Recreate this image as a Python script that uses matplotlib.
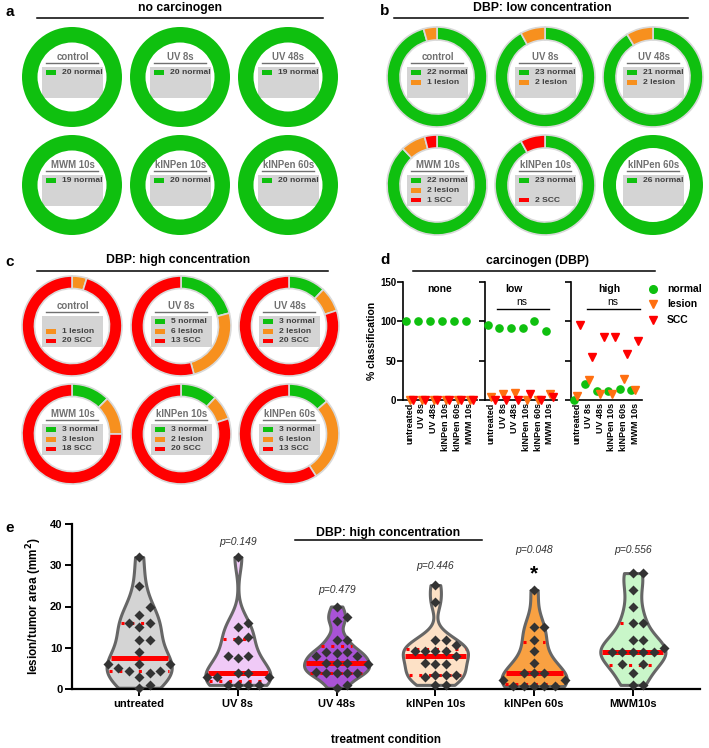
import numpy as np
import matplotlib
matplotlib.use('Agg')
import matplotlib.pyplot as plt
from matplotlib.patches import Rectangle
from matplotlib.lines import Line2D

plt.rcParams['font.family'] = ['Liberation Sans', 'DejaVu Sans']

W, H = 709, 748

# ---- data -------------------------------------------------------------
donut_names = ['control', 'UV 8s', 'UV 48s', 'MWM 10s', 'kINPen 10s', 'kINPen 60s']

a_normal = [20, 20, 19, 19, 20, 20]
a_lesion = [0, 0, 0, 0, 0, 0]
a_scc = [0, 0, 0, 0, 0, 0]

b_normal = [22, 23, 21, 22, 23, 26]
b_lesion = [1, 2, 2, 2, 0, 0]
b_scc = [0, 0, 0, 1, 2, 0]

c_normal = [0, 5, 3, 3, 3, 3]
c_lesion = [1, 6, 2, 3, 2, 6]
c_scc = [20, 13, 20, 18, 20, 13]

d_labels = ['untreated', 'UV 8s', 'UV 48s', 'kINPen 10s', 'kINPen 60s', 'MWM 10s']
d_groups = ['none', 'low', 'high']
d_normal = [[100, 100, 100, 100, 100, 100],
            [95.7, 92, 91.3, 92, 100, 88],
            [0, 20.8, 12, 12, 13.6, 12.5]]
d_lesion = [[0, 0, 0, 0, 0, 0],
            [4.3, 8, 8.7, 0, 0, 8],
            [4.8, 25, 8, 8, 27.3, 12.5]]
d_scc = [[0, 0, 0, 0, 0, 0],
         [0, 0, 0, 8, 0, 4],
         [95.2, 54.2, 80, 80, 59.1, 75]]

e_labels = ['untreated', 'UV 8s', 'UV 48s', 'kINPen 10s', 'kINPen 60s', 'MWM10s']
e_untreated = [32, 25, 20, 18, 16, 16, 15, 12, 12, 9, 6, 6, 6, 5, 4.4, 4.4, 4, 3, 1, 0.3]
e_uv8 = [32, 16, 15, 12.7, 12, 8, 8, 7.4, 4, 4, 3, 3, 3, 1, 1, 1, 1]
e_uv48 = [20, 17.5, 16.5, 12, 12, 9, 9, 8.8, 8, 8, 6.2, 6.2, 6.2, 6, 4.2, 4, 4, 4, 4, 1, 0.3]
e_kin10 = [25.2, 21.2, 12, 12, 10.7, 9.3, 9.3, 9.3, 9.3, 8, 6.2, 6, 6, 3.4, 3.4, 3.4, 3, 1, 1]
e_kin60 = [24, 15, 15, 12, 9.2, 6.4, 4, 4, 4, 2.2, 2.2, 0.7, 0.7, 0.7, 0.7, 0.7]
e_mwm = [28.1, 28.1, 24, 20, 16.1, 16.1, 12, 12, 9.9, 9, 9, 9, 9, 9, 6, 6, 4, 1, 1]
e_median = [7.5, 4.0, 6.2, 8.0, 4.0, 9.0]
e_q1 = [4.4, 1.9, 4.0, 3.4, 1.1, 5.8]
e_q3 = [16.0, 12.2, 10.4, 9.7, 11.5, 16.0]
e_pvals = ['', 'p=0.149', 'p=0.479', 'p=0.446', 'p=0.048', 'p=0.556']
e_pval_y = [0, 35.7, 24.0, 29.9, 33.7, 33.7]

# ---- colours ----------------------------------------------------------
GREEN = '#0fc00f'
ORANGE = '#f7901e'
RED = '#ff0000'
D_ORANGE = '#ff6f10'
violin_cols = ['#d4d4d4', '#f0caf7', '#a953d6', '#fde1c6', '#f9a142', '#c9f6c9']

fig = plt.figure(figsize=(W / 100, H / 100), dpi=100)


def px_axes(x0, y0, x1, y1):
    return fig.add_axes([x0 / W, 1 - y1 / H, (x1 - x0) / W, (y1 - y0) / H])


def ftext(x, y, s, **kw):
    fig.text(x / W, 1 - y / H, s, **kw)


def fline(x0, x1, y, **kw):
    fig.add_artist(Line2D([x0 / W, x1 / W], [1 - y / H, 1 - y / H],
                          transform=fig.transFigure, **kw))


def donut(cx, cy, name, counts, ring):
    ax = px_axes(cx - 50, cy - 50, cx + 50, cy + 50)
    cols = [GREEN, ORANGE, RED]
    vals = [v for v in counts if v > 0]
    vcols = [c for v, c in zip(counts, cols) if v > 0]
    ax.pie(vals, colors=vcols, radius=1, startangle=90, counterclock=False,
           wedgeprops=dict(width=ring, edgecolor='#d9d9d9' if len(vals) > 1 else 'none',
                           linewidth=1.2))
    ax.set_xlim(-1, 1)
    ax.set_ylim(-1, 1)
    ax.set_aspect('auto')
    ax.axis('off')
    u = 1 / 50.0
    ax.text(0.01, 20 * u, name, ha='center', va='center', fontsize=6.9,
            fontweight='bold', color='#707070')
    ax.plot([-26 * u, 26 * u], [14.3 * u, 14.3 * u], color='#707070', lw=1)
    ax.add_patch(Rectangle((-30 * u, -21 * u), 61 * u, 31 * u, facecolor='#d4d4d4',
                           edgecolor='none', zorder=0.5))
    words = ['normal', 'lesion', 'SCC']
    rows = [4.3, -5.3, -15]
    for v, c, w, ry in zip(counts, cols, words, rows):
        if v <= 0:
            continue
        ax.add_patch(Rectangle((-26 * u, (ry - 2.3) * u), 10 * u, 4.6 * u, facecolor=c,
                               edgecolor='none'))
        ax.text(-10 * u, ry * u, f'{v} {w}', ha='left', va='center', fontsize=6.1,
                fontweight='bold', color='#404040')


# ---- panels a, b, c ---------------------------------------------------
panel_specs = [
    ('a', 'no carcinogen', (5, 12), (180, 8), (37, 323, 18), [72, 180, 288], [77, 185],
     (a_normal, a_lesion, a_scc), 0.31),
    ('b', 'DBP: low concentration', (380, 11), (542, 8), (394, 688, 18), [437, 545, 653], [77, 185],
     (b_normal, b_lesion, b_scc), 0.26),
    ('c', 'DBP: high concentration', (5, 262), (178, 260), (37, 328, 271), [72, 181, 289], [326, 434],
     (c_normal, c_lesion, c_scc), 0.25),
]
for letter, title, lpos, tpos, lline, xs, ys, (nn, ll, ss), ring in panel_specs:
    ftext(*lpos, letter, fontsize=11, fontweight='bold', ha='left', va='center')
    ftext(*tpos, title, fontsize=8.8, fontweight='bold', ha='center', va='center')
    fline(lline[0], lline[1], lline[2], color='black', lw=1.1)
    for k in range(6):
        donut(xs[k % 3], ys[k // 3], donut_names[k], [nn[k], ll[k], ss[k]], ring)

# ---- panel d ----------------------------------------------------------
ftext(380, 260, 'd', fontsize=11, fontweight='bold', ha='left', va='center')
ftext(538, 261, 'carcinogen (DBP)', fontsize=8.8, fontweight='bold', ha='center', va='center')
fline(413, 655, 271, color='black', lw=1.1)

d_spans = [(403, 477), (485, 557), (571, 642)]
d_titles_x = [440, 514, 609]
for k, (x0, x1) in enumerate(d_spans):
    ax = px_axes(x0, 282, x1, 400)
    x = np.arange(len(d_labels))
    ax.plot(x - 0.33, d_normal[k], 'o', color=GREEN, ms=5.2, clip_on=False, zorder=3)
    ax.plot(x, d_lesion[k], 'v', color=D_ORANGE, ms=5.2, clip_on=False, zorder=3)
    ax.plot(x + 0.27, d_scc[k], 'v', color=RED, ms=5.2, clip_on=False, zorder=3)
    ax.set_ylim(0, 150)
    ax.set_xlim(-0.55, 5.6)
    for sp in ['top', 'right']:
        ax.spines[sp].set_visible(False)
    for sp in ['left', 'bottom']:
        ax.spines[sp].set_linewidth(1.2)
    ax.set_yticks([0, 50, 100, 150])
    ax.tick_params(axis='y', length=4, width=1.2, labelsize=7, pad=1)
    ax.tick_params(axis='x', length=0, labelsize=6.5, pad=2)
    if k > 0:
        ax.set_yticklabels([])
    else:
        for t in ax.get_yticklabels():
            t.set_fontweight('bold')
        ax.set_ylabel('% classification', fontsize=7.5, fontweight='bold', labelpad=2)
    ax.set_xticks(x)
    ax.set_xticklabels(d_labels, rotation=90, fontweight='bold')
    ax.patch.set_alpha(0)
    ftext(d_titles_x[k], 289, d_groups[k], fontsize=7.5, fontweight='bold', ha='center', va='center')

ftext(522, 302, 'ns', fontsize=7.5, ha='center', va='center')
fline(497, 549, 309, color='black', lw=1)
ftext(613, 302, 'ns', fontsize=7.5, ha='center', va='center')
fline(587, 640, 309, color='black', lw=1)

leg = [('o', GREEN, 'normal'), ('v', D_ORANGE, 'lesion'), ('v', RED, 'SCC')]
lax = px_axes(645, 280, 709, 330)
lax.set_xlim(645, 709)
lax.set_ylim(330, 280)
lax.axis('off')
for (m, c, lab), yy in zip(leg, [289, 304, 320]):
    lax.plot([653], [yy], m, color=c, ms=5.5)
    lax.text(667, yy, lab, fontsize=7.5, fontweight='bold', va='center', ha='left')

# ---- panel e ----------------------------------------------------------
ftext(5, 528, 'e', fontsize=11, fontweight='bold', ha='left', va='center')
ftext(388, 533, 'DBP: high concentration', fontsize=8.8, fontweight='bold', ha='center', va='center')
fline(295, 482, 540, color='black', lw=1.1)

ax = px_axes(72, 524, 700, 689)
ax.set_xlim(-0.68, 5.68)
ax.set_ylim(0, 40)
ax.patch.set_alpha(0)
for sp in ['top', 'right']:
    ax.spines[sp].set_visible(False)
for sp in ['left', 'bottom']:
    ax.spines[sp].set_linewidth(1.6)
ax.set_yticks([0, 10, 20, 30, 40])
ax.tick_params(axis='both', length=5, width=1.4, labelsize=8, pad=2)
ax.set_xticks(range(6))
ax.set_xticklabels(e_labels, fontweight='bold')
for t in ax.get_yticklabels():
    t.set_fontweight('bold')
ax.set_ylabel('lesion/tumor area (mm$^\\mathbf{2}$)', fontsize=8.5, fontweight='bold', labelpad=4)
ftext(386, 740, 'treatment condition', fontsize=8.5, fontweight='bold', ha='center', va='center')

px_per_x = 628 / 6.36
px_per_y = 165 / 40.0


def kde(vals, grid):
    # gaussian kernel, Silverman bandwidth
    iqr = np.subtract(*np.percentile(vals, [75, 25]))
    bw = 0.9 * min(vals.std(ddof=1), iqr / 1.34) * len(vals) ** -0.2
    v = vals[:, None]
    return np.exp(-0.5 * ((grid[None, :] - v) / bw) ** 2).sum(axis=0)


def swarm(vals, step=0.105, diam=9.0):
    order = np.argsort(vals)
    placed = []
    offs = np.zeros(len(vals))
    cands = [0]
    for j in range(1, 8):
        cands += [j * step, -j * step]
    for idx in order:
        y = vals[idx]
        for c in cands:
            ok = True
            for (px, py) in placed:
                dx = (c - px) * px_per_x
                dy = (y - py) * px_per_y
                if dx * dx + dy * dy < diam * diam:
                    ok = False
                    break
            if ok:
                break
        offs[idx] = c
        placed.append((c, y))
    return offs


groups = [e_untreated, e_uv8, e_uv48, e_kin10, e_kin60, e_mwm]
for i, vals in enumerate(groups):
    vals = np.array(vals, dtype=float)
    grid = np.linspace(vals.min(), vals.max(), 300)
    dens = kde(vals, grid)
    half = dens / dens.max() * 0.33
    ax.fill_betweenx(grid, i - half, i + half, facecolor=violin_cols[i], edgecolor='#666666',
                     lw=2.2, zorder=2)
    for yv, style, lw in [(e_median[i], '-', 3.6), (e_q1[i], (0, (1, 2.2)), 2.2),
                          (e_q3[i], (0, (1, 2.2)), 2.2)]:
        hw = np.interp(yv, grid, half)
        ax.plot([i - hw + 0.02, i + hw - 0.02], [yv, yv], color=RED, lw=lw, ls=style,
                solid_capstyle='butt', zorder=3)
    offs = swarm(vals)
    ax.plot(i + offs, vals, 'D', color='#333333', ms=5, mec='none', zorder=4, clip_on=False)
    if e_pvals[i]:
        ax.text(i, e_pval_y[i], e_pvals[i], ha='center', va='center', fontsize=7.5,
                style='italic', color='#333333')

ax.text(4, 28.0, '*', ha='center', va='center', fontsize=15, fontweight='bold')

fig.savefig('out.png', dpi=100)
